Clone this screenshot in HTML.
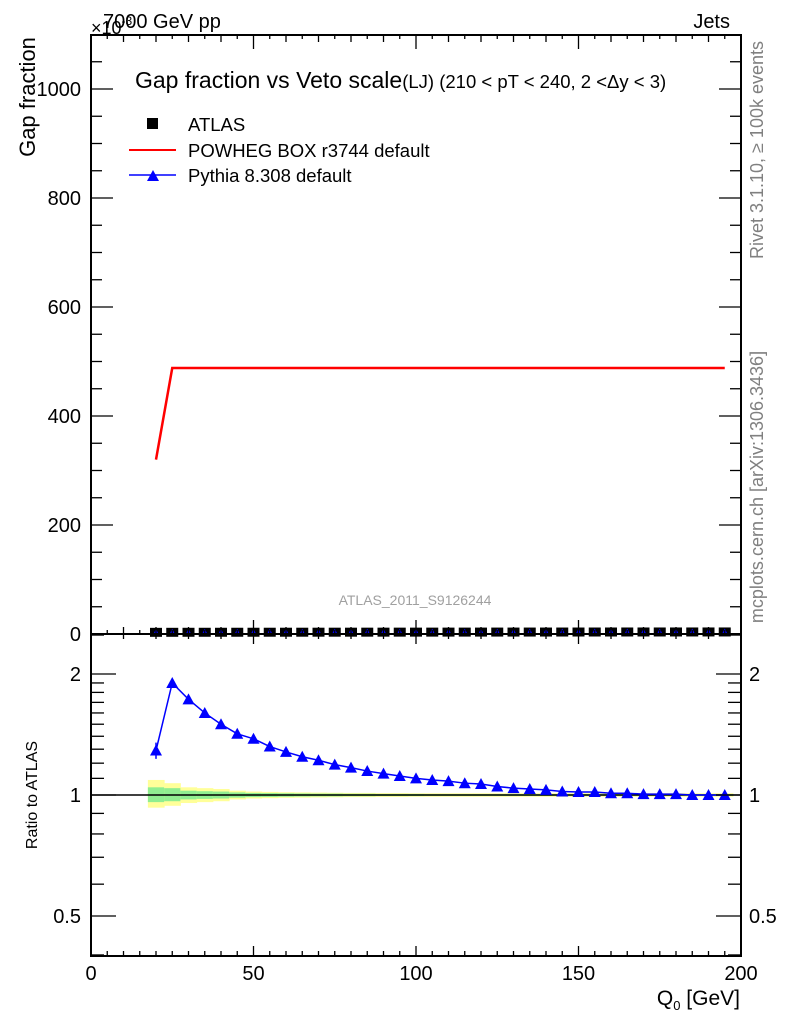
<!DOCTYPE html>
<html><head><meta charset="utf-8"><style>
html,body{margin:0;padding:0;background:#fff;}
svg{display:block;font-family:"Liberation Sans",sans-serif;}
</style></head><body>
<svg id="chart" width="786" height="1024" viewBox="0 0 786 1024" xmlns="http://www.w3.org/2000/svg">
<rect x="0" y="0" width="786" height="1024" fill="#fff"/>
<g id="bands"></g>
<g id="marks"></g>
<g id="axes" stroke="#000" fill="none"></g>
<rect x="91" y="35" width="650" height="599" fill="none" stroke="#000" stroke-width="2"/>
<rect x="91" y="634" width="650" height="322" fill="none" stroke="#000" stroke-width="2"/>
<text x="103" y="28" font-size="20">7000 GeV pp</text>
<text x="91" y="34" font-size="18">×10<tspan font-size="12" dy="-9">-3</tspan></text>
<text x="730" y="28" font-size="20" text-anchor="end">Jets</text>
<text x="135" y="88" font-size="23">Gap fraction vs Veto scale<tspan font-size="18.5">(LJ) (210 &lt; pT &lt; 240, 2 &lt;Δy &lt; 3)</tspan></text>
<text transform="translate(35,97) rotate(-90)" font-size="22" text-anchor="middle">Gap fraction</text>
<text transform="translate(37,795) rotate(-90)" font-size="16" text-anchor="middle">Ratio to ATLAS</text>
<text x="740" y="1005" font-size="21" text-anchor="end">Q<tspan font-size="13" dy="5">0</tspan><tspan dy="-5"> [GeV]</tspan></text>
<text transform="translate(763,150) rotate(-90)" font-size="18" fill="#808080" text-anchor="middle">Rivet 3.1.10, ≥ 100k events</text>
<text transform="translate(763,487) rotate(-90)" font-size="18" fill="#808080" text-anchor="middle">mcplots.cern.ch [arXiv:1306.3436]</text>
<text x="415" y="605" font-size="14" fill="#a0a0a0" text-anchor="middle">ATLAS_2011_S9126244</text>
<g>
<rect x="147" y="118" width="11" height="11" fill="#000"/>
<text x="188" y="131" font-size="18.5">ATLAS</text>
<line x1="129" y1="150" x2="176" y2="150" stroke="#f00" stroke-width="2"/>
<text x="188" y="157" font-size="18.5">POWHEG BOX r3744 default</text>
<line x1="129" y1="175" x2="176" y2="175" stroke="#00f" stroke-width="1.5"/>
<polygon points="147,181 153,170 159,181" fill="#00f"/>
<text x="188" y="182" font-size="18.5">Pythia 8.308 default</text>
</g>
</svg>
<script>
const qValues=[20,25,30,35,40,45,50,55,60,65,70,75,80,85,90,95,100,105,110,115,120,125,130,135,140,145,150,155,160,165,170,175,180,185,190,195];
const atlasValues=[0.3,0.35,0.4,0.42,0.44,0.46,0.48,0.5,0.52,0.54,0.56,0.58,0.6,0.62,0.64,0.66,0.68,0.7,0.72,0.74,0.76,0.78,0.8,0.82,0.84,0.86,0.88,0.9,0.92,0.94,0.95,0.96,0.97,0.98,0.99,1.0];
const powhegQ=[20,25,195];
const powhegValues=[320,488,488];
const pythiaRatio=[1.29,1.90,1.73,1.60,1.50,1.42,1.38,1.32,1.28,1.245,1.22,1.19,1.17,1.147,1.13,1.115,1.10,1.09,1.083,1.07,1.065,1.05,1.04,1.035,1.03,1.02,1.017,1.017,1.01,1.01,1.005,1.005,1.005,1.0,1.0,1.0];
const pythiaErr=[0.06,0.02,0.01,0.01,0.01,0.01,0.01,0.01,0.01,0.01,0.01,0.01,0.01,0.01,0.01,0.01,0.01,0.01,0.01,0.01,0.01,0.01,0.01,0.01,0.01,0.01,0.01,0.01,0.01,0.01,0.01,0.01,0.01,0.01,0.01,0.01];
const yellowUp=[1.09,1.07,1.045,1.04,1.035,1.025,1.02,1.018,1.016,1.015,1.014,1.013,1.012,1.012,1.011,1.011,1.01,1.01,1.01,1.01,1.01,1.01,1.01,1.01,1.01,1.01,1.01,1.01,1.01,1.01,1.01,1.01,1.01,1.01,1.01,1.01];
const yellowDn=[0.93,0.94,0.955,0.96,0.965,0.975,0.98,0.982,0.984,0.985,0.986,0.987,0.988,0.988,0.989,0.989,0.99,0.99,0.99,0.99,0.99,0.99,0.99,0.99,0.99,0.99,0.99,0.99,0.99,0.99,0.99,0.99,0.99,0.99,0.99,0.99];
const greenUp=[1.045,1.04,1.025,1.022,1.02,1.015,1.012,1.011,1.01,1.009,1.008,1.008,1.007,1.007,1.006,1.006,1.006,1.005,1.005,1.005,1.005,1.005,1.005,1.005,1.005,1.005,1.005,1.005,1.005,1.005,1.005,1.005,1.005,1.005,1.005,1.005];
const greenDn=[0.96,0.965,0.975,0.978,0.98,0.985,0.988,0.989,0.99,0.991,0.992,0.992,0.993,0.993,0.994,0.994,0.994,0.995,0.995,0.995,0.995,0.995,0.995,0.995,0.995,0.995,0.995,0.995,0.995,0.995,0.995,0.995,0.995,0.995,0.995,0.995];
const xTickLabels=[0,50,100,150,200];
const yTickLabels=[0,200,400,600,800,1000];
const ratioTickLabels=[0.5,1,2];

const NS="http://www.w3.org/2000/svg";
const X=v=>91+v*650/200;
const Y=v=>634-v*0.545;
const R=r=>795-121*Math.log2(r);
function mk(tag,attrs,parent){const e=document.createElementNS(NS,tag);for(const k in attrs)e.setAttribute(k,attrs[k]);parent.appendChild(e);return e;}
const bands=document.getElementById('bands'),marks=document.getElementById('marks'),axes=document.getElementById('axes');

qValues.forEach((q,i)=>{
  const y=mk('rect',{x:X(q-2.5),y:R(yellowUp[i]),width:X(q+2.5)-X(q-2.5)+0.5,height:R(yellowDn[i])-R(yellowUp[i]),fill:'#ffff99'},bands);
  
  
  const g=mk('rect',{x:X(q-2.5),y:R(greenUp[i]),width:X(q+2.5)-X(q-2.5)+0.5,height:R(greenDn[i])-R(greenUp[i]),fill:'#90ee90'},bands);
  
  
});
const one=mk('line',{x1:91,x2:741,y1:R(1),y2:R(1),stroke:'#000','stroke-width':1.5},marks);



const pl=mk('polyline',{points:powhegQ.map((q,i)=>X(q)+','+Y(powhegValues[i])).join(' '),fill:'none',stroke:'#f00','stroke-width':2.5},marks);



qValues.forEach((q,i)=>{
  const s=mk('rect',{x:X(q)-6,y:Y(atlasValues[i])-6,width:12,height:9,fill:'#000'},marks);
  
  
  const t=mk('polygon',{points:`${X(q)-3},${Y(atlasValues[i])+1} ${X(q)},${Y(atlasValues[i])-5} ${X(q)+3},${Y(atlasValues[i])+1}`,fill:'#00f'},marks);
  
  
});

const rl=mk('polyline',{points:qValues.map((q,i)=>X(q)+','+R(pythiaRatio[i])).join(' '),fill:'none',stroke:'#00f','stroke-width':1.5},marks);


qValues.forEach((q,i)=>{
  const cx=X(q),cy=R(pythiaRatio[i]);
  const e=mk('line',{x1:cx,x2:cx,y1:R(pythiaRatio[i]+pythiaErr[i]),y2:R(pythiaRatio[i]-pythiaErr[i]),stroke:'#00f','stroke-width':1.5},marks);
  
  
  const t=mk('polygon',{points:`${cx-6},${cy+5} ${cx},${cy-6} ${cx+6},${cy+5}`,fill:'#00f'},marks);
  
  
});

for(let v=0;v<=200;v+=5){
  const maj=v%50===0, mid=v%10===0;
  const L=maj?14:(mid?7:4);
  [[634,-1],[35,1],[956,-1],[634,1]].forEach(([y0,d])=>{
    if(y0===634&&d===1&&!mid&&!maj)return;
    const len=(y0===956||y0===634&&d===1)?(maj?10:5):L;
    mk('line',{x1:X(v),x2:X(v),y1:y0,y2:y0+d*len,'stroke-width':1.3},axes);
  });
}
xTickLabels.forEach(v=>{
  const t=mk('text',{x:X(v),y:980,'font-size':20,'text-anchor':'middle',fill:'#000',stroke:'none'},axes);
  t.textContent=v;
  
  
});
for(let v=0;v<=1095;v+=50){
  const maj=v%200===0;const L=maj?22:11;
  mk('line',{x1:91,x2:91+L,y1:Y(v),y2:Y(v),'stroke-width':1.3},axes);
  mk('line',{x1:741,x2:741-L,y1:Y(v),y2:Y(v),'stroke-width':1.3},axes);
}
yTickLabels.forEach(v=>{
  const t=mk('text',{x:81,y:Y(v)+7,'font-size':20,'text-anchor':'end',fill:'#000',stroke:'none'},axes);
  t.textContent=v;
  
  
});
const minors=[0.4,0.6,0.7,0.8,0.9,1.1,1.2,1.3,1.4,1.5,1.6,1.7,1.8,1.9,2.5];
minors.forEach(r=>{
  mk('line',{x1:91,x2:104,y1:R(r),y2:R(r),'stroke-width':1.3},axes);
  mk('line',{x1:741,x2:728,y1:R(r),y2:R(r),'stroke-width':1.3},axes);
});
ratioTickLabels.forEach(r=>{
  mk('line',{x1:91,x2:116,y1:R(r),y2:R(r),'stroke-width':1.3},axes);
  mk('line',{x1:741,x2:716,y1:R(r),y2:R(r),'stroke-width':1.3},axes);
  const t=mk('text',{x:81,y:R(r)+7,'font-size':20,'text-anchor':'end',fill:'#000',stroke:'none'},axes);
  t.textContent=r;
  
  
  const t2=mk('text',{x:749,y:R(r)+7,'font-size':20,'text-anchor':'start',fill:'#000',stroke:'none'},axes);
  t2.textContent=r;
  
  
});
</script>
</body></html>
